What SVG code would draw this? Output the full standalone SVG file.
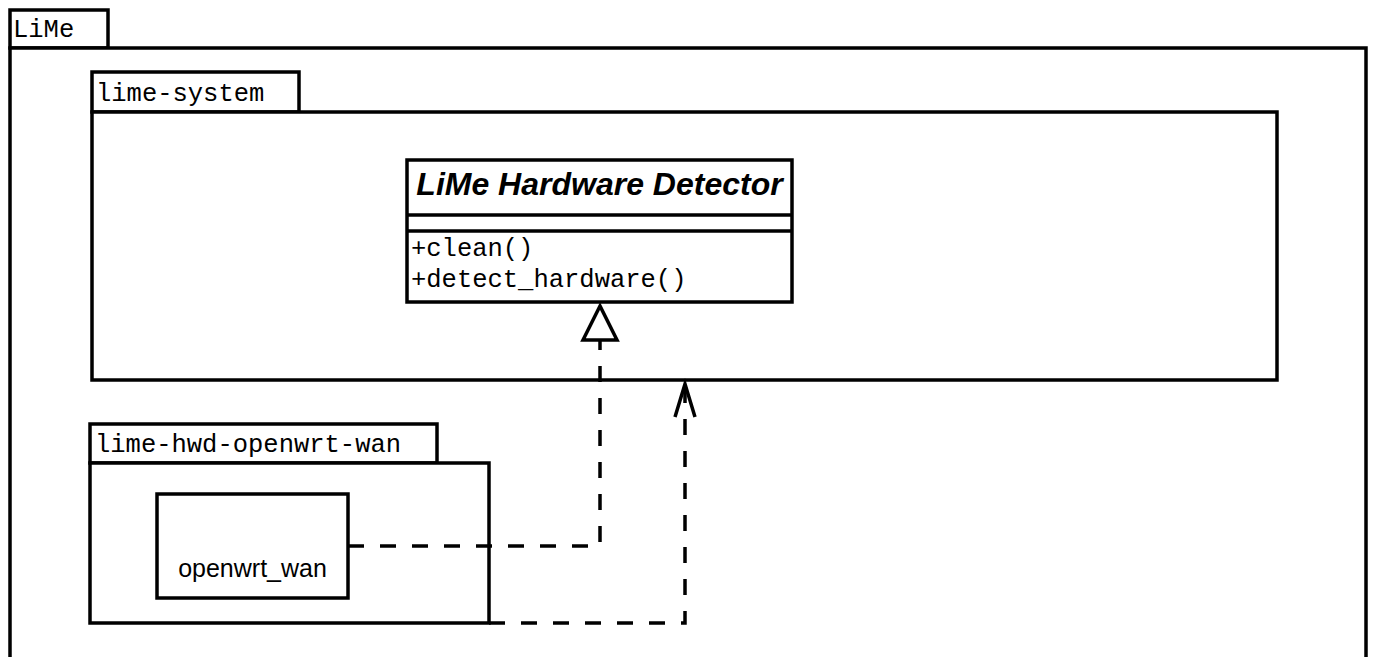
<svg xmlns="http://www.w3.org/2000/svg" width="1373" height="657" viewBox="0 0 1373 657">
<style>
.box{fill:#fff;stroke:#000;stroke-width:3.5}
.mono{font-family:"Liberation Mono","Courier New",monospace;font-size:25.5px;fill:#000}
.sans{font-family:"Liberation Sans",Arial,sans-serif;font-size:25px;fill:#000}
.dash{fill:none;stroke:#000;stroke-width:3.5;stroke-dasharray:16,16}
</style>
<rect width="1373" height="657" fill="#fff"/>
<g id="LiMe">
<rect class="box" x="10" y="10" width="98" height="38"/>
<rect class="box" x="10" y="48" width="1356" height="640"/>
<text class="mono" x="13" y="37">LiMe</text>
</g>
<g id="lime-system">
<rect class="box" x="92" y="72" width="207" height="40"/>
<rect class="box" x="92" y="112" width="1185" height="268"/>
<text class="mono" x="96" y="101">lime-system</text>
</g>
<g id="lime-hardware-detector">
<rect class="box" x="407" y="160" width="385" height="142"/>
<line x1="407" y1="215" x2="792" y2="215" stroke="#000" stroke-width="3.5"/>
<line x1="407" y1="231" x2="792" y2="231" stroke="#000" stroke-width="3.5"/>
<text x="599.5" y="195" text-anchor="middle" style="font-family:'Liberation Sans',Arial,sans-serif;font-size:32px;font-weight:bold;font-style:italic">LiMe Hardware Detector</text>
<text class="mono" x="411" y="256">+clean()</text>
<text class="mono" x="411" y="287">+detect_hardware()</text>
</g>
<g id="lime-hwd-openwrt-wan">
<rect class="box" x="90" y="424" width="347" height="39"/>
<rect class="box" x="90" y="463" width="399" height="160"/>
<text class="mono" x="95" y="452">lime-hwd-openwrt-wan</text>
</g>
<g id="openwrt_wan">
<rect class="box" x="157" y="494" width="191" height="104"/>
<text class="sans" x="252.5" y="577" text-anchor="middle">openwrt_wan</text>
</g>
<g id="connectors">
<path class="dash" d="M348,546 H600 V340"/>
<polygon points="600,306 583,340 617,340" fill="#fff" stroke="#000" stroke-width="3.5"/>
<path class="dash" d="M489,623 H685 V385"/>
<polyline points="675,417 685,384 695,417" fill="none" stroke="#000" stroke-width="3.5"/>
</g>
</svg>
